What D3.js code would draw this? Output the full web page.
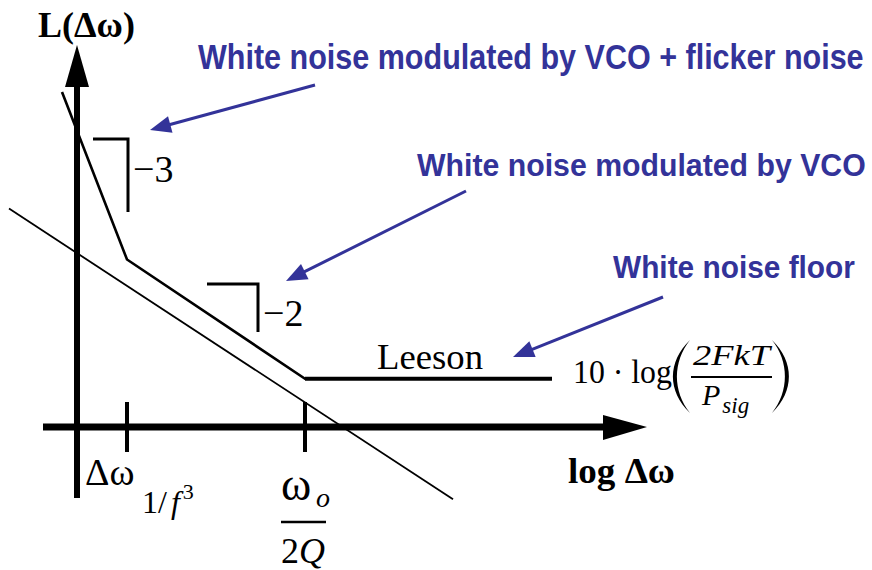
<!DOCTYPE html>
<html>
<head>
<meta charset="utf-8">
<script src="https://cdn.jsdelivr.net/npm/d3@7"></script>
<style>
  html, body { margin: 0; padding: 0; background: #fff; }
  svg { display: block; }
</style>
</head>
<body>
<script>
// Phase-noise spectrum of an oscillator (Leeson model), log frequency offset vs L(Δω) in dB.
// x values are decades of offset, y values are dB.

// Leeson curve: 1/f^3 region, 1/f^2 region, flat white-noise floor
const leesonX = [-0.375, 1.25, 5.7, 11.875];
const leesonY = [250, 125, 36, 36];

// Resonator-only (white noise modulated by VCO) asymptote
const resonatorX = [-1.7, 9.4];
const resonatorY = [163, -54];

// Corner frequencies marked on the offset axis
const cornerX = [1.25, 5.7];

// Slope indicators (dB/decade order) with their bracket extents
const slopeLabels = ["−3", "−2"];
const slopeX0 = [0.4, 3.25];
const slopeX1 = [1.275, 4.525];
const slopeYTop = [215, 106.7];
const slopeYBot = [160.4, 70.9];

// Axis extents
const xAxisRange = [-0.85, 14.25];
const yAxisRange = [-53, 285];

// Annotation texts
const noteTexts = [
  "White noise modulated by VCO + flicker noise",
  "White noise modulated by VCO",
  "White noise floor"
];

const W = 872, H = 570;
const serif = "'Liberation Serif', 'Times New Roman', serif";
const sans = "'Liberation Sans', Arial, sans-serif";
const blue = "#333399";

const x = d3.scaleLinear().domain([0, 10]).range([77, 477]);
const y = d3.scaleLinear().domain([0, 100]).range([427, 293]);

const svg = d3.select("body").append("svg")
  .attr("width", W).attr("height", H)
  .attr("viewBox", `0 0 ${W} ${H}`);
svg.append("rect").attr("width", W).attr("height", H).attr("fill", "#fff");

// Place a text at (tx, ty) and squeeze it horizontally to a given width.
function fitText(sel, tx, ty, width) {
  const n = sel.node();
  const w = n.getComputedTextLength();
  const s = width / w;
  sel.attr("x", 0).attr("y", 0)
     .attr("transform", `translate(${tx},${ty}) scale(${s},1)`);
  return sel;
}

// ---- axes ----
const ax = svg.append("g").attr("class", "axes");
ax.append("line")
  .attr("x1", x(0)).attr("x2", x(0))
  .attr("y1", y(yAxisRange[0])).attr("y2", y(yAxisRange[1]) + 30)
  .attr("stroke", "#000").attr("stroke-width", 6);
ax.append("path")
  .attr("d", `M${x(0)},${y(yAxisRange[1])} L${x(0) + 12},${y(yAxisRange[1]) + 42} L${x(0) - 12},${y(yAxisRange[1]) + 42}Z`)
  .attr("fill", "#000");

ax.append("line")
  .attr("x1", x(xAxisRange[0])).attr("x2", x(xAxisRange[1]) - 30)
  .attr("y1", y(0)).attr("y2", y(0))
  .attr("stroke", "#000").attr("stroke-width", 7);
ax.append("path")
  .attr("d", `M${x(xAxisRange[1])},${y(0)} L${x(xAxisRange[1]) - 44},${y(0) - 12} L${x(xAxisRange[1]) - 44},${y(0) + 13}Z`)
  .attr("fill", "#000");

// corner ticks crossing the offset axis
ax.selectAll("line.corner").data(cornerX).join("line")
  .attr("class", "corner")
  .attr("x1", d => x(d)).attr("x2", d => x(d))
  .attr("y1", y(0) - 25).attr("y2", y(0) + 25)
  .attr("stroke", "#000").attr("stroke-width", 4);

// ---- curves ----
const line = d3.line().x(d => x(d[0])).y(d => y(d[1]));
const leesonPts = leesonX.map((v, i) => [v, leesonY[i]]);
const resonatorPts = resonatorX.map((v, i) => [v, resonatorY[i]]);

svg.append("path").datum(resonatorPts)
  .attr("d", line).attr("fill", "none")
  .attr("stroke", "#000").attr("stroke-width", 1.8);

svg.append("path").datum(leesonPts)
  .attr("d", line).attr("fill", "none")
  .attr("stroke", "#000").attr("stroke-width", 2.6)
  .attr("stroke-linejoin", "miter");

svg.append("path").datum(leesonPts.slice(2))
  .attr("d", line).attr("fill", "none")
  .attr("stroke", "#000").attr("stroke-width", 4);

// ---- slope brackets ----
const slopes = slopeLabels.map((s, i) => ({
  s, x0: slopeX0[i], x1: slopeX1[i], yt: slopeYTop[i], yb: slopeYBot[i]
}));
const sg = svg.selectAll("g.slope").data(slopes).join("g").attr("class", "slope");
sg.append("path")
  .attr("d", d => `M${x(d.x0)},${y(d.yt)} H${x(d.x1)} V${y(d.yb)}`)
  .attr("fill", "none").attr("stroke", "#000").attr("stroke-width", 3);
sg.append("text")
  .attr("x", d => x(d.x1) + 5)
  .attr("y", d => y(d.yb) - (d.s === "−3" ? 30 : 6))
  .attr("font-family", serif).attr("font-size", 38)
  .text(d => d.s);

// ---- axis titles ----
svg.append("text")
  .attr("x", 38).attr("y", 37)
  .attr("font-family", serif).attr("font-weight", "bold").attr("font-size", 36)
  .text("L(Δω)");

fitText(svg.append("text")
  .attr("font-family", serif).attr("font-weight", "bold").attr("font-size", 36)
  .text("log Δω"), 568, 483, 107);

// ---- corner labels ----
const c1 = svg.append("text").attr("font-family", serif);
c1.append("tspan").attr("x", x(cornerX[0]) - 42).attr("y", 485).attr("font-size", 38).text("Δω");
c1.append("tspan").attr("x", x(cornerX[0]) + 15).attr("y", 513).attr("font-size", 32).text("1/");
c1.append("tspan").attr("dx", 4).attr("font-size", 32).attr("font-style", "italic").text("f");
c1.append("tspan").attr("dx", 3).attr("dy", -14).attr("font-size", 22).text("3");

const cx2 = x(cornerX[1]);
svg.append("text").attr("x", cx2 - 24).attr("y", 500)
  .attr("font-family", serif).attr("font-size", 46).text("ω");
svg.append("text").attr("x", cx2 + 11).attr("y", 507)
  .attr("font-family", serif).attr("font-style", "italic").attr("font-size", 28).text("o");
svg.append("line")
  .attr("x1", cx2 - 24).attr("x2", cx2 + 21).attr("y1", 522).attr("y2", 522)
  .attr("stroke", "#000").attr("stroke-width", 2.5);
const c2 = svg.append("text").attr("x", cx2 - 24).attr("y", 563).attr("font-family", serif).attr("font-size", 36);
c2.append("tspan").text("2");
c2.append("tspan").attr("font-style", "italic").text("Q");

// ---- Leeson label and floor expression ----
fitText(svg.append("text")
  .attr("font-family", serif).attr("font-size", 35)
  .text("Leeson"), 377, 369, 106);

const fx = svg.append("g").attr("class", "floor-expr");
fitText(fx.append("text")
  .attr("font-family", serif).attr("font-size", 34)
  .text("10 · log"), 573, 383, 99);

function paren(xEnd, yTop, yBot, outer, inner) {
  const h = yBot - yTop;
  const co = (outer - 0.25 * xEnd) / 0.75;
  const ci = (inner - 0.25 * xEnd) / 0.75;
  return `M${xEnd},${yTop} C${co},${yTop + h * 0.3} ${co},${yBot - h * 0.3} ${xEnd},${yBot}` +
         ` C${ci},${yBot - h * 0.3} ${ci},${yTop + h * 0.3} ${xEnd},${yTop}Z`;
}
fx.append("path").attr("d", paren(690, 340, 413, 673, 677)).attr("fill", "#000");
fx.append("path").attr("d", paren(772, 340, 413, 789, 785)).attr("fill", "#000");

fitText(fx.append("text")
  .attr("font-family", serif).attr("font-style", "italic").attr("font-size", 30)
  .text("2FkT"), 693, 365, 77);
fx.append("line").attr("x1", 691).attr("x2", 772).attr("y1", 377).attr("y2", 377)
  .attr("stroke", "#000").attr("stroke-width", 2);
const pt = fx.append("text").attr("x", 702).attr("y", 405)
  .attr("font-family", serif).attr("font-style", "italic").attr("font-size", 30);
pt.append("tspan").text("P");
pt.append("tspan").attr("dx", 2).attr("dy", 8).attr("font-size", 23).text("sig");

// ---- blue annotations ----
const notes = [
  { t: noteTexts[0], tx: 198, ty: 69, fs: 36, len: 666, from: [315, 85], to: [150, 130] },
  { t: noteTexts[1], tx: 417, ty: 176, fs: 32, len: 449, from: [466, 191], to: [286, 281] },
  { t: noteTexts[2], tx: 613, ty: 278, fs: 32, len: 242, from: [663, 297], to: [513, 357] }
];
const ng = svg.selectAll("g.note").data(notes).join("g").attr("class", "note");
ng.each(function(d) {
  const g = d3.select(this);
  fitText(g.append("text")
    .attr("font-family", sans).attr("font-weight", "bold")
    .attr("font-size", d.fs).attr("fill", blue)
    .text(d.t), d.tx, d.ty, d.len);

  const [x0, y0] = d.from, [x1, y1] = d.to;
  const ang = Math.atan2(y1 - y0, x1 - x0);
  const L = 21, hw = 8.5;
  const bx = x1 - L * Math.cos(ang), by = y1 - L * Math.sin(ang);
  g.append("line")
    .attr("x1", x0).attr("y1", y0).attr("x2", bx + 3 * Math.cos(ang)).attr("y2", by + 3 * Math.sin(ang))
    .attr("stroke", blue).attr("stroke-width", 3);
  g.append("path")
    .attr("d", `M${x1},${y1} L${bx - hw * Math.sin(ang)},${by + hw * Math.cos(ang)} L${bx + hw * Math.sin(ang)},${by - hw * Math.cos(ang)}Z`)
    .attr("fill", blue);
});
</script>
</body>
</html>
